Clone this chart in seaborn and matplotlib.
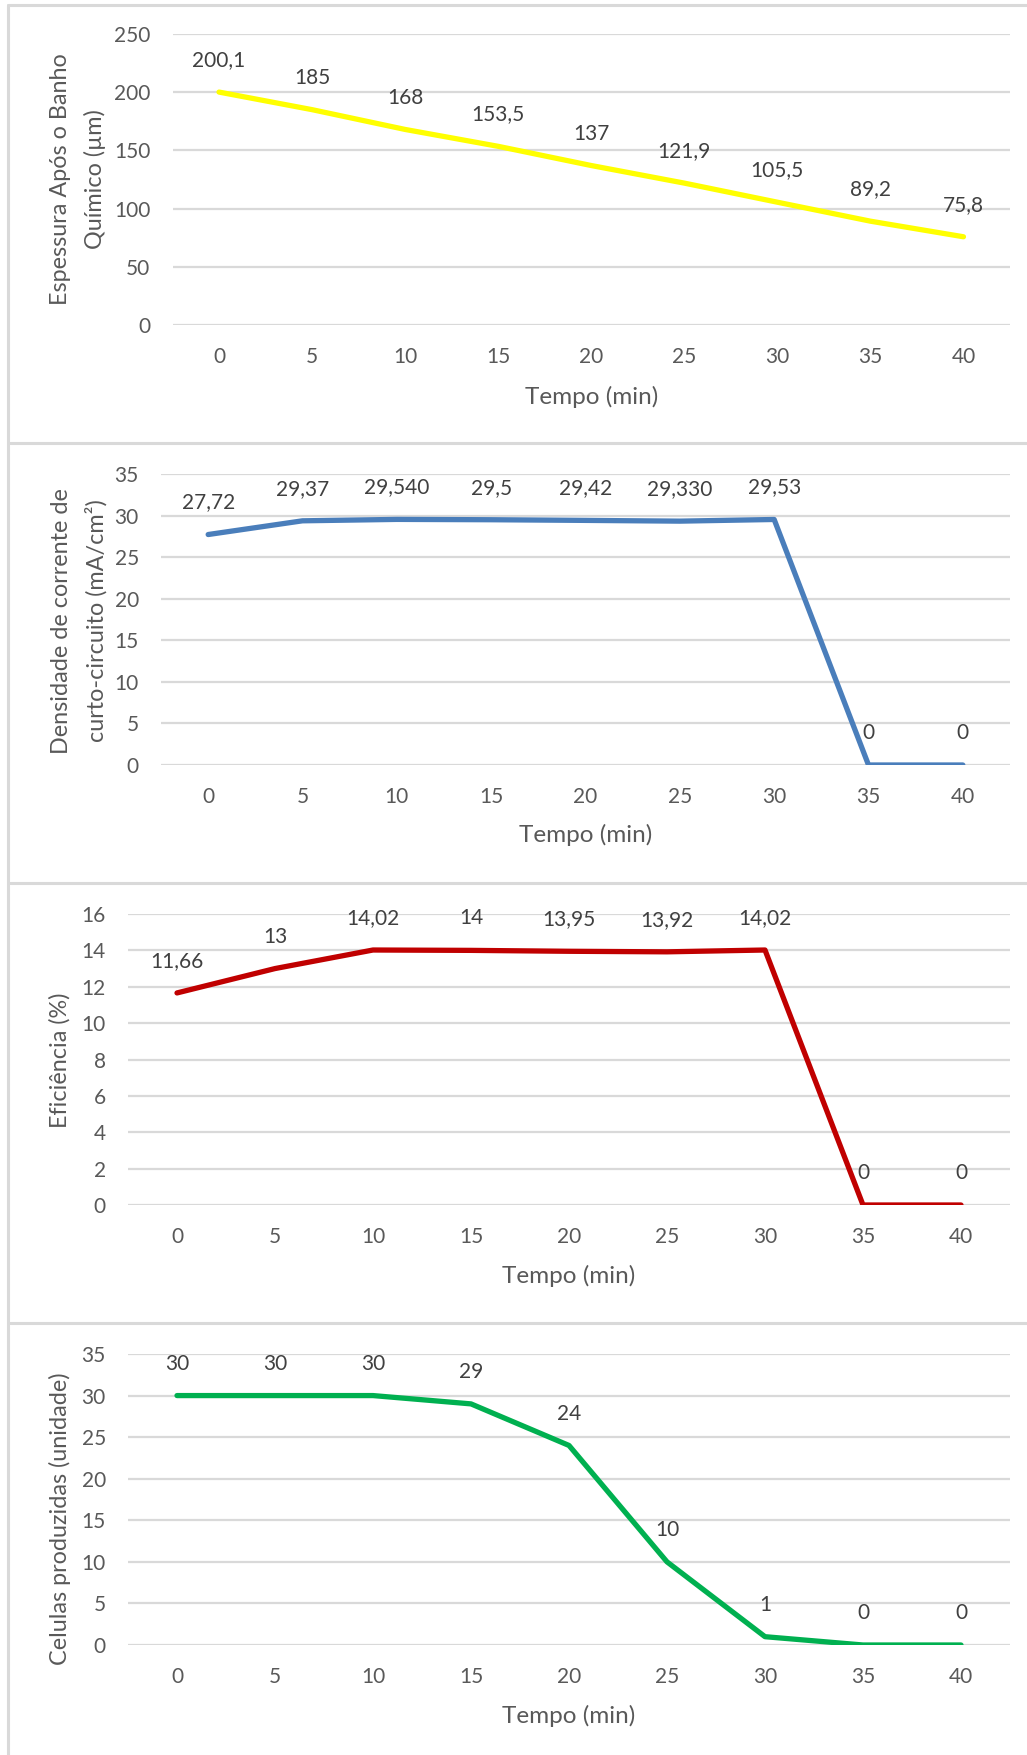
import matplotlib
matplotlib.use("Agg")
import matplotlib.pyplot as plt
from matplotlib.lines import Line2D
import seaborn as sns
import pandas as pd

# --- data -------------------------------------------------------------
tempo = [0, 5, 10, 15, 20, 25, 30, 35, 40]
espessura = [200.1, 185, 168, 153.5, 137, 121.9, 105.5, 89.2, 75.8]
densidade = [27.72, 29.37, 29.54, 29.5, 29.42, 29.33, 29.53, 0, 0]
densidade_casas = [2, 2, 3, 1, 2, 3, 2, 0, 0]   # decimal places shown per label
eficiencia = [11.66, 13, 14.02, 14, 13.95, 13.92, 14.02, 0, 0]
celulas = [30, 30, 30, 29, 24, 10, 1, 0, 0]

titulos_y = [
    "Espessura Após o Banho\nQuímico (µm)",
    "Densidade de corrente de\ncurto-circuito (mA/cm²)",
    "Eficiência (%)",
    "Celulas produzidas (unidade)",
]
titulo_x = "Tempo (min)"
cores = ["#FFFF00", "#4A7EBB", "#C00000", "#00B050"]
yticks = [range(0, 251, 50), range(0, 36, 5), range(0, 17, 2), range(0, 36, 5)]


def fmt(v, casas=None):
    s = f"{v:.{casas}f}" if casas is not None else f"{v:g}"
    return s.replace(".", ",")


rotulos = [
    [fmt(v) for v in espessura],
    [fmt(v, c) for v, c in zip(densidade, densidade_casas)],
    [fmt(v) for v in eficiencia],
    [fmt(v) for v in celulas],
]
series = [espessura, densidade, eficiencia, celulas]

# --- style ------------------------------------------------------------
sns.set_theme(style="white")
plt.rcParams["font.family"] = ["Lato", "DejaVu Sans"]

W, H = 1027, 1755
fig = plt.figure(figsize=(W / 100, H / 100), dpi=100)

# plot areas in pixels: left, right, top (max tick), bottom (zero line)
areas = [
    (172.5, 1010, 34, 325),
    (161, 1010, 474, 765),
    (128, 1010, 914, 1205),
    (128, 1010, 1354, 1645),
]
ylabel_pos = [(78, 179), (79, 621), (60, 1060), (60, 1519)]
xlabel_y = [397, 835, 1276, 1716]

TICK_C = "#595959"
LBL_C = "#404040"
GRID_C = "#D9D9D9"

for i, (l, r, t, b) in enumerate(areas):
    ax = fig.add_axes([l / W, 1 - b / H, (r - l) / W, (b - t) / H])
    df = pd.DataFrame({"tempo": tempo, "valor": series[i]})
    sns.lineplot(data=df, x="tempo", y="valor", ax=ax, color=cores[i],
                 linewidth=3.8, solid_capstyle="round", solid_joinstyle="round")
    yt = list(yticks[i])
    ax.set_ylim(yt[0], yt[-1])
    ax.set_yticks(yt)
    ax.set_xlim(-2.5, 42.5)
    ax.set_xticks(tempo)
    ax.set_xticklabels([str(v) for v in tempo])
    for s in ax.spines.values():
        s.set_visible(False)
    ax.yaxis.grid(True, color=GRID_C, linewidth=1.6)
    ax.xaxis.grid(False)
    ax.set_axisbelow(True)
    ax.tick_params(axis="both", length=0, labelsize=15, labelcolor=TICK_C)
    ax.tick_params(axis="x", pad=16)
    ax.tick_params(axis="y", pad=16)
    ax.set_xlabel("")
    ax.set_ylabel("")
    for x, y, txt in zip(tempo, series[i], rotulos[i]):
        ax.annotate(txt, (x, y), xytext=(0, 23), textcoords="offset points",
                    ha="center", va="center", fontsize=15, color=LBL_C,
                    annotation_clip=False)

    fig.text(ylabel_pos[i][0] / W, 1 - ylabel_pos[i][1] / H, titulos_y[i],
             rotation=90, ha="center", va="center", multialignment="center",
             fontsize=16.8, color=TICK_C, linespacing=1.7)
    fig.text(((l + r) / 2) / W, 1 - xlabel_y[i] / H, titulo_x,
             ha="center", va="center", fontsize=17.5, color=TICK_C)

# table-like frame around the panels
frame_c = "#D9D9D9"
def hline(y, x0=8, x1=W):
    fig.add_artist(Line2D([x0 / W, x1 / W], [1 - y / H, 1 - y / H],
                          transform=fig.transFigure, color=frame_c, linewidth=2.2))

hline(5)
for y in (443, 883, 1323):
    hline(y)
fig.add_artist(Line2D([8 / W, 8 / W], [1 - 5 / H, 0], transform=fig.transFigure,
                      color=frame_c, linewidth=2.2))

fig.savefig("out.png", dpi=100, facecolor="white")
